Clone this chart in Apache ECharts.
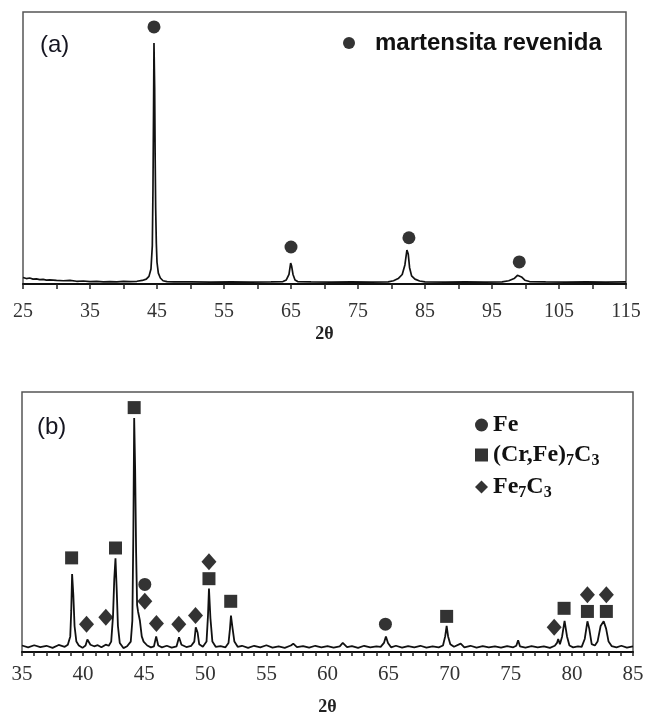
<!DOCTYPE html>
<html>
<head>
<meta charset="utf-8">
<title>DRX</title>
<script src="https://cdn.jsdelivr.net/npm/echarts@6/dist/echarts.min.js"></script>
<style>
    html, body { margin: 0; padding: 0; background: #fff; }
    #chart { width: 649px; height: 717px; }
</style>
</head>
<body>
<div id="chart"></div>
<script>
    // (a) difractograma - martensita revenida
    var angleA = [25.0, 25.5, 26.0, 26.5, 27.0, 27.5, 28.0, 28.5, 29.0, 30.0, 31.0, 32.0, 33.0, 34.0, 35.0,
        36.0, 37.0, 38.0, 39.0, 40.0, 41.0, 42.0, 42.8, 43.4, 43.8, 44.1, 44.3, 44.4, 44.48, 44.55,
        44.65, 44.72, 44.8, 44.9, 45.0, 45.2, 45.5, 45.9, 46.5, 47.5, 50.0, 53.0, 56.0, 59.0, 62.0,
        63.8, 64.3, 64.7, 64.95, 65.1, 65.3, 65.6, 66.0, 68.0, 71.0, 74.0, 77.0, 79.5, 80.3, 81.0,
        81.6, 82.0, 82.3, 82.5, 82.7, 83.0, 83.5, 84.2, 85.0, 88.0, 91.0, 94.0, 96.5, 97.5, 98.3,
        98.8, 99.05, 99.4, 99.9, 100.6, 103.0, 106.0, 109.0, 112.0, 115.0];
    var intensityA = [2.4, 2.0, 2.2, 1.8, 1.9, 1.6, 1.7, 1.4, 1.5, 1.3, 1.2, 1.3, 1.0, 1.1, 0.9,
        1.0, 0.8, 0.9, 0.8, 1.0, 0.9, 1.0, 1.3, 1.8, 2.8, 5.5, 14, 35, 62, 88.6,
        72, 48, 28, 15, 8, 4, 2.2, 1.2, 0.9, 0.8, 0.8, 0.7, 0.8, 0.7, 0.8,
        0.9, 1.5, 3.5, 7.7, 6.5, 3.5, 1.5, 0.9, 0.8, 0.7, 0.8, 0.7, 0.8, 1.2, 2.0,
        3.5, 7.0, 12.5, 11, 6, 3, 1.8, 1.1, 0.8, 0.7, 0.8, 0.7, 0.8, 1.2, 2.0,
        3.2, 3.7, 2.6, 1.4, 0.9, 0.8, 0.7, 0.8, 0.7, 0.8];
    var martensitaA = [[44.55, 94.5], [65.0, 13.6], [82.6, 17.0], [99.07, 8.1]];

    // (b) difractograma - Fe, (Cr,Fe)7C3, Fe7C3
    var angleB = [35.0, 35.5, 36.0, 36.5, 37.0, 37.5, 38.0, 38.5, 38.75, 38.95, 39.03, 39.1, 39.2, 39.3,
        39.45, 39.65, 39.95, 40.2, 40.35, 40.6, 40.9, 41.2, 41.5, 41.85, 42.1, 42.3, 42.45, 42.55,
        42.65, 42.75, 42.85, 43.0, 43.3, 43.6, 43.9, 44.03, 44.11, 44.18, 44.26, 44.34, 44.42, 44.5,
        44.65, 44.8, 44.95, 45.25, 45.55, 45.8, 45.98, 46.15, 46.45, 46.85, 47.25, 47.65, 47.85, 48.05,
        48.45, 48.85, 49.1, 49.22, 49.37, 49.5, 49.8, 50.1, 50.22, 50.3, 50.42, 50.58, 50.85, 51.25,
        51.65, 51.9, 52.02, 52.1, 52.22, 52.38, 52.65, 53.0, 53.5, 54.0, 54.5, 55.0, 55.5, 56.0,
        56.5, 57.0, 57.2, 57.5, 58.0, 58.5, 59.0, 59.5, 60.0, 60.5, 61.0, 61.25, 61.6, 62.0, 62.5,
        63.0, 63.5, 64.0, 64.35, 64.62, 64.78, 64.95, 65.2, 65.6, 66.1, 66.6, 67.1, 67.6, 68.1,
        68.6, 69.1, 69.45, 69.63, 69.75, 69.87, 70.05, 70.35, 70.9, 71.2, 71.7, 72.2, 72.7, 73.2,
        73.7, 74.2, 74.7, 75.2, 75.45, 75.6, 75.75, 76.2, 76.7, 77.2, 77.7, 78.2, 78.6, 78.78,
        78.88, 79.02, 79.2, 79.4, 79.6, 79.8, 80.1, 80.5, 80.8, 81.05, 81.27, 81.42, 81.62, 81.88,
        82.1, 82.35, 82.6, 82.8, 83.0, 83.25, 83.65, 84.05, 84.5, 85.0];
    var intensityB = [2.5, 1.8, 2.6, 1.9, 2.4, 1.6, 2.7, 2.0, 2.8, 6, 16, 30, 22, 10,
        4, 2.5, 1.6, 2.5, 4.8, 2.8, 2.2, 2.6, 1.8, 2.8, 2.4, 4, 14, 28,
        36, 24, 10, 3.5, 1.5, 2.2, 4, 12, 45, 90, 70, 38, 18, 15.5,
        12, 6, 4, 2.5, 1.8, 2.2, 6, 2.5, 1.8, 2.4, 1.7, 2.2, 5.7, 2.8,
        1.9, 2.4, 4, 9.5, 7.5, 3, 2, 4, 14, 24.4, 13, 4, 2, 2.3,
        1.8, 3.5, 9, 14, 9.5, 4, 2, 2.4, 1.6, 2.4, 1.8, 2.6, 1.7, 2.2,
        1.6, 2.5, 3.2, 1.9, 2.3, 1.7, 2.4, 1.8, 2.3, 1.7, 2.2, 3.5, 1.9, 2.3, 1.6,
        2.4, 1.8, 2.2, 2.0, 3.5, 6, 3.5, 1.8, 2.4, 1.7, 2.3, 1.8, 2.4, 1.7,
        2.2, 1.8, 2.5, 6, 10, 6, 3, 2, 3.2, 1.8, 2.4, 1.7, 2.3, 1.8,
        2.2, 1.7, 2.3, 1.8, 2.4, 4.5, 2.2, 1.7, 2.3, 1.8, 2.2, 1.6, 2.4, 3.5,
        5, 3, 6, 12, 6, 2.5, 1.8, 2.2, 2, 5, 11.8, 9, 3, 2.5,
        4, 10, 11.8, 9, 4, 2.3, 1.8, 2.4, 1.7, 2.2];
    var feB = [[45.05, 26], [64.74, 10.7]];
    var crfeB = [[39.06, 36.2], [42.65, 40], [44.18, 94], [50.3, 28.2], [52.08, 19.5],
        [69.75, 13.7], [79.36, 16.8], [81.27, 15.6], [82.82, 15.6]];
    var fe7c3B = [[40.28, 10.7], [41.86, 13.4], [45.05, 19.5], [46.0, 11], [47.83, 10.7],
        [49.2, 14], [50.3, 34.7], [78.55, 9.5], [81.27, 22], [82.82, 22]];
    var phasesB = ['Fe', '(Cr,Fe)7C3', 'Fe7C3'];

    function zip(xs, ys) {
        var out = [];
        for (var i = 0; i < xs.length; i++) out.push([xs[i], ys[i]]);
        return out;
    }

    var serif = 'Liberation Serif, Times New Roman, serif';
    var sans = 'Liberation Sans, Arial, sans-serif';

    var chart = echarts.init(document.getElementById('chart'), null, {renderer: 'canvas'});
    var option = {
        animation: false,
        backgroundColor: '#fff',
        title: [
            {text: '(a)', left: 40, top: 33, padding: 0,
                textStyle: {fontFamily: sans, fontWeight: 'normal', fontSize: 24, color: '#151520'}},
            {text: '(b)', left: 37, top: 415, padding: 0,
                textStyle: {fontFamily: sans, fontWeight: 'normal', fontSize: 24, color: '#151520'}}
        ],
        legend: [
            {
                data: ['martensita revenida'],
                left: 343, top: 31, padding: 0,
                itemWidth: 12, itemHeight: 12,
                selectedMode: false,
                textStyle: {fontFamily: sans, fontWeight: 'bold', fontSize: 24, color: '#111',
                    padding: [0, 0, 0, 15]}
            },
            {
                data: phasesB,
                orient: 'vertical',
                left: 475, top: 413, padding: 0,
                itemWidth: 13, itemHeight: 13, itemGap: 6,
                selectedMode: false,
                formatter: function (name) {
                    // digits become subscripts
                    return '{n|' + name.replace(/(\d)/g, '}{s|$1}{n|') + '}';
                },
                textStyle: {
                    color: '#111',
                    rich: {
                        n: {fontFamily: serif, fontWeight: 'bold', fontSize: 24, lineHeight: 28, color: '#111'},
                        s: {fontFamily: serif, fontWeight: 'bold', fontSize: 16, color: '#111', padding: [12, 0, 0, 0]}
                    }
                }
            }
        ],
        grid: [
            {left: 23, top: 12, width: 603, height: 272, show: true, borderColor: '#555', borderWidth: 1.5},
            {left: 22, top: 392, width: 611, height: 262, show: true, borderColor: '#555', borderWidth: 1.5}
        ],
        xAxis: [
            {
                gridIndex: 0, type: 'value', min: 25, max: 115, interval: 5,
                axisLine: {lineStyle: {color: '#111', width: 2}},
                axisTick: {length: 5, lineStyle: {color: '#222', width: 1.5}},
                splitLine: {show: false},
                axisLabel: {
                    margin: 18, fontFamily: serif, fontSize: 20, color: '#333',
                    formatter: function (v) { return (v - 25) % 10 === 0 ? String(v) : ''; }
                },
                name: '2θ', nameLocation: 'middle', nameGap: 41,
                nameTextStyle: {fontFamily: serif, fontWeight: 'bold', fontSize: 18, color: '#222'}
            },
            {
                gridIndex: 1, type: 'value', min: 35, max: 85, interval: 5,
                axisLine: {lineStyle: {color: '#111', width: 2}},
                axisTick: {length: 4, lineStyle: {color: '#222', width: 1.5}},
                minorTick: {show: true, splitNumber: 5, length: 4, lineStyle: {color: '#222', width: 1.5}},
                splitLine: {show: false},
                axisLabel: {margin: 12, fontFamily: serif, fontSize: 21, color: '#333'},
                name: '2θ', nameLocation: 'middle', nameGap: 46,
                nameTextStyle: {fontFamily: serif, fontWeight: 'bold', fontSize: 18, color: '#222'}
            }
        ],
        yAxis: [
            {gridIndex: 0, type: 'value', min: 0, max: 100, show: false},
            {gridIndex: 1, type: 'value', min: 0, max: 100, show: false}
        ],
        series: [
            {
                type: 'line', xAxisIndex: 0, yAxisIndex: 0, data: zip(angleA, intensityA),
                symbol: 'none', silent: true, lineStyle: {color: '#111', width: 1.7}
            },
            {
                name: 'martensita revenida', type: 'scatter', xAxisIndex: 0, yAxisIndex: 0,
                data: martensitaA, symbol: 'circle', symbolSize: 13, itemStyle: {color: '#000'}
            },
            {
                type: 'line', xAxisIndex: 1, yAxisIndex: 1, data: zip(angleB, intensityB),
                symbol: 'none', silent: true, lineStyle: {color: '#111', width: 1.8}
            },
            {
                name: 'Fe', type: 'scatter', xAxisIndex: 1, yAxisIndex: 1,
                data: feB, symbol: 'circle', symbolSize: 13, itemStyle: {color: '#000'}
            },
            {
                name: '(Cr,Fe)7C3', type: 'scatter', xAxisIndex: 1, yAxisIndex: 1,
                data: crfeB, symbol: 'rect', symbolSize: 13, itemStyle: {color: '#000'}
            },
            {
                name: 'Fe7C3', type: 'scatter', xAxisIndex: 1, yAxisIndex: 1,
                data: fe7c3B, symbol: 'diamond', symbolSize: [15, 17], itemStyle: {color: '#000'}
            }
        ]
    };
    chart.setOption(option);
</script>
</body>
</html>
